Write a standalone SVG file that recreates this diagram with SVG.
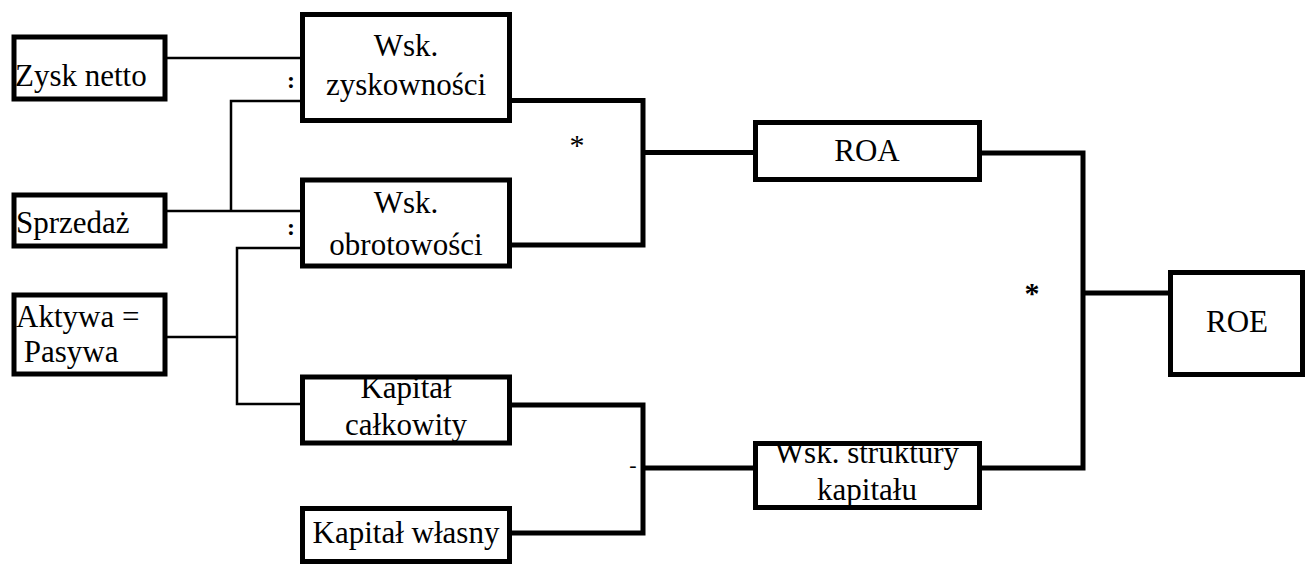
<svg xmlns="http://www.w3.org/2000/svg" width="1309" height="564" viewBox="0 0 1309 564">
<style>
.box{fill:#fff;stroke:#000;stroke-width:5}
.thin{fill:none;stroke:#000;stroke-width:2.5}
.thick{fill:none;stroke:#000;stroke-width:5}
</style>
<rect width="1309" height="564" fill="#fff"/>
<g id="connectors">
<path class="thin" d="M167 58H300"/>
<path class="thin" d="M167 211H300"/>
<path class="thin" d="M231 211V101H300"/>
<path class="thin" d="M300 248H237V404H300"/>
<path class="thin" d="M167 337H237"/>
<path class="thick" d="M510 100.5H643V245H510"/>
<path class="thick" d="M643 152.5H755"/>
<path class="thick" d="M510 405H643V533H510"/>
<path class="thick" d="M643 468H755"/>
<path class="thick" d="M980 153H1083V468H980"/>
<path class="thick" d="M1083 293H1170"/>
</g>
<g font-family="Liberation Serif, DejaVu Serif, serif" fill="#000">
<g id="operators" text-anchor="middle">
<text x="291" y="88" font-size="24" font-weight="bold">:</text>
<text x="291" y="235" font-size="24" font-weight="bold">:</text>
<text x="577" y="155" font-size="30">*</text>
<text x="1032" y="303" font-size="30" font-weight="bold">*</text>
<text x="633" y="472" font-size="22">-</text>
</g>
<g font-size="31">
<g id="zysk-netto">
<rect class="box" x="14" y="37" width="151" height="62"/>
<text x="15" y="86">Zysk netto</text>
</g>
<g id="sprzedaz">
<rect class="box" x="14" y="195" width="151" height="51"/>
<text x="16" y="233">Sprzedaż</text>
</g>
<g id="aktywa">
<rect class="box" x="14" y="295" width="151" height="79"/>
<text x="16" y="327">Aktywa =</text>
<text x="16" y="362" xml:space="preserve"> Pasywa</text>
</g>
<g text-anchor="middle">
<g id="wsk-zyskownosci">
<rect class="box" x="302.5" y="14.5" width="207" height="106"/>
<text x="406" y="56">Wsk.</text>
<text x="406" y="95">zyskowności</text>
</g>
<g id="wsk-obrotowosci">
<rect class="box" x="302.5" y="180" width="207" height="86"/>
<text x="406" y="213">Wsk.</text>
<text x="406" y="255">obrotowości</text>
</g>
<g id="kapital-calkowity">
<rect class="box" x="302.5" y="377" width="207" height="66"/>
<text x="406" y="398">Kapitał</text>
<text x="406" y="435">całkowity</text>
</g>
<g id="kapital-wlasny">
<rect class="box" x="302.5" y="508.5" width="207" height="53"/>
<text x="406" y="543">Kapitał własny</text>
</g>
<g id="roa">
<rect class="box" x="755.5" y="122.5" width="224" height="57"/>
<text x="867" y="161">ROA</text>
</g>
<g id="wsk-struktury">
<rect class="box" x="755.5" y="443.5" width="224" height="64"/>
<text x="867" y="463">Wsk. struktury</text>
<text x="867" y="500">kapitału</text>
</g>
<g id="roe">
<rect class="box" x="1170.5" y="272.5" width="132" height="102"/>
<text x="1237" y="332">ROE</text>
</g>
</g>
</g>
</g>
</svg>
